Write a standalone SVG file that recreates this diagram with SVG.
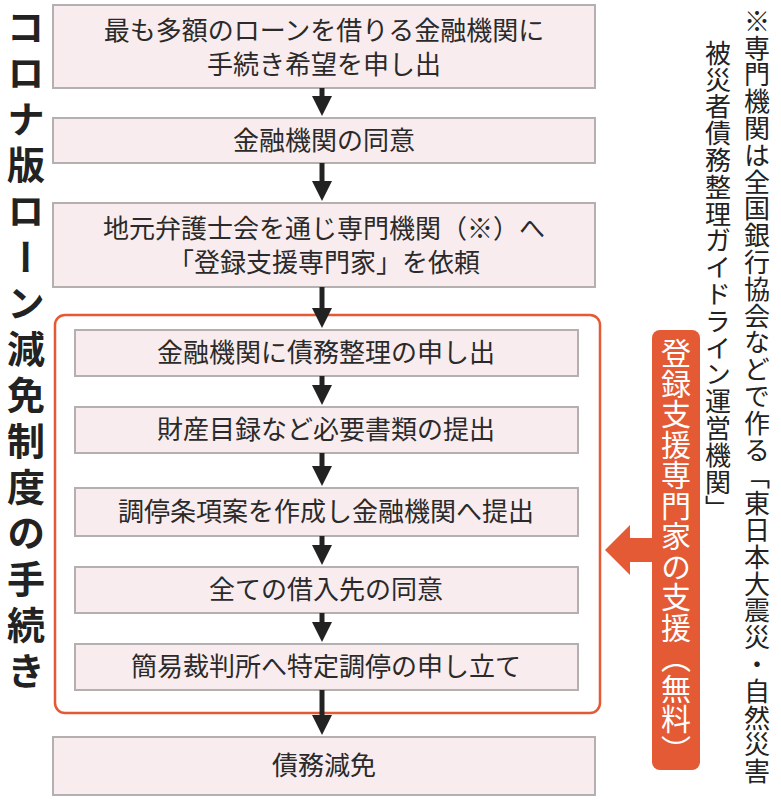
<svg xmlns="http://www.w3.org/2000/svg" width="781" height="800" viewBox="0 0 781 800">
<style>
.b{fill:#f9ecee;stroke:#b5b0b0;stroke-width:2}
.t{font-family:"Noto Sans CJK JP",sans-serif;font-size:26px;fill:#2a2a2a;text-anchor:middle}
.v{font-family:"Noto Sans CJK JP",sans-serif;writing-mode:vertical-rl}
</style>
<defs><marker id="a" markerWidth="4" markerHeight="4" refX="2" refY="2" orient="auto" markerUnits="strokeWidth"><path d="M0,0 L4,2 L0,4 Z" fill="#222"/></marker></defs>
<rect width="781" height="800" fill="#fff"/>
<g id="title"><text class="v" x="26" y="8" style="font-size:38px;font-weight:bold;fill:#222;letter-spacing:8px">コロナ版ローン減免制度の手続き</text></g>
<g id="note"><text class="v" x="757" y="8" style="font-size:26px;fill:#222;letter-spacing:0.8px">※専門機関は全国銀行協会などで作る「東日本大震災・自然災害</text>
<text class="v" x="718" y="40" style="font-size:26px;fill:#222;letter-spacing:0.8px">被災者債務整理ガイドライン運営機関」</text></g>
<g id="frame"><rect x="55" y="315" width="545" height="398" rx="10" fill="none" stroke="#e35a35" stroke-width="2.5"/></g>
<g id="n1"><rect class="b" x="53" y="5" width="542" height="83"/><text class="t" x="324" y="40">最も多額のローンを借りる金融機関に</text><text class="t" x="324" y="74">手続き希望を申し出</text></g>
<g id="n2"><rect class="b" x="53" y="118" width="542" height="45"/><text class="t" x="324" y="150">金融機関の同意</text></g>
<g id="n3"><rect class="b" x="53" y="203" width="542" height="84"/><text class="t" x="324" y="238">地元弁護士会を通じ専門機関（※）へ</text><text class="t" x="324" y="272">「登録支援専門家」を依頼</text></g>
<g id="n4"><rect class="b" x="75" y="330" width="503" height="46"/><text class="t" x="326" y="362">金融機関に債務整理の申し出</text></g>
<g id="n5"><rect class="b" x="75" y="407" width="503" height="46"/><text class="t" x="326" y="439">財産目録など必要書類の提出</text></g>
<g id="n6"><rect class="b" x="75" y="488" width="503" height="48"/><text class="t" x="326" y="521">調停条項案を作成し金融機関へ提出</text></g>
<g id="n7"><rect class="b" x="75" y="567" width="503" height="46"/><text class="t" x="326" y="599">全ての借入先の同意</text></g>
<g id="n8"><rect class="b" x="75" y="644" width="503" height="46"/><text class="t" x="326" y="676">簡易裁判所へ特定調停の申し立て</text></g>
<g id="n9"><rect class="b" x="53" y="737" width="542" height="58"/><text class="t" x="324" y="775">債務減免</text></g>
<g id="support"><rect x="652" y="330" width="48" height="440" rx="8" fill="#e35a35"/>
<text class="v" x="676" y="338" style="font-size:30px;fill:#fff;letter-spacing:0.5px">登録支援専門家の支援（無料）</text>
<path d="M652,538 L630,538 L630,525 L605,550 L630,575 L630,562 L652,562 Z" fill="#e35a35"/></g>
<g id="connectors" stroke="#222" stroke-width="5" marker-end="url(#a)">
<line x1="322" y1="88" x2="322" y2="106"/>
<line x1="322" y1="163" x2="322" y2="191"/>
<line x1="322" y1="287" x2="322" y2="318"/>
<line x1="322" y1="376" x2="322" y2="395"/>
<line x1="322" y1="453" x2="322" y2="476"/>
<line x1="322" y1="536" x2="322" y2="555"/>
<line x1="322" y1="613" x2="322" y2="632"/>
<line x1="322" y1="690" x2="322" y2="725"/>
</g>
</svg>
